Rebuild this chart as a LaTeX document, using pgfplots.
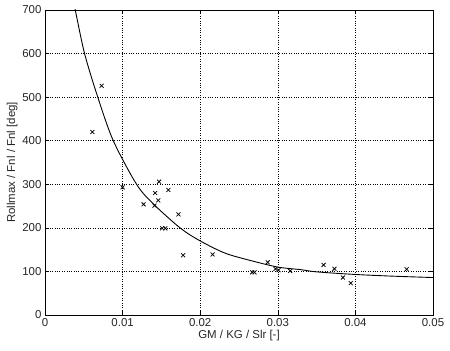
\documentclass[border=0pt]{standalone}
\usepackage{pgfplots}
\pgfplotsset{compat=1.18}
\usepackage{fontspec}
\setmainfont{Liberation Sans}
\begin{document}
\begin{tikzpicture}
\useasboundingbox (-45bp,-36bp) rectangle (405bp,315bp);
\begin{axis}[
  scale only axis,
  width=388bp, height=305bp,
  xmin=0, xmax=0.05, ymin=0, ymax=700,
  xtick={0,0.01,0.02,0.03,0.04,0.05},
  xticklabels={0,0.01,0.02,0.03,0.04,0.05},
  scaled x ticks=false,
  ytick={0,100,200,300,400,500,600,700},
  /pgf/number format/assume math mode=true,
  tick align=inside,
  tick style={black, line width=0.6pt},
  major tick length=4bp,
  grid=major,
  grid style={black, dotted, line width=0.6pt},
  axis line style={black, line width=0.9pt},
  ticklabel style={font=\fontsize{11.5}{13}\selectfont, black!85},
  label style={font=\fontsize{11.5}{13}\selectfont, black!85},
  xlabel={GM / KG / Slr [-]},
  ylabel={Rollmax / Fnl / Fnl [deg]},
  xlabel style={yshift=3bp},
  ylabel style={yshift=-2bp},
  clip=true,
]
\addplot[only marks, mark=x, mark size=2.8pt, black, line width=0.75pt] coordinates {
(0.0061,420) (0.0073,526) (0.0100,293) (0.0127,254) (0.0142,280)
(0.0141,251) (0.0146,263) (0.0147,306) (0.0159,287) (0.0172,231)
(0.0151,199) (0.0155,199) (0.0178,137) (0.0216,139) (0.0267,98)
(0.0270,98) (0.0287,121) (0.0297,106) (0.0301,103) (0.0316,101)
(0.0359,115) (0.0373,106) (0.0384,86) (0.0394,73) (0.0466,105)
};
\addplot[smooth, black, line width=0.9pt] coordinates {
(0.0037,715) (0.0039,700) (0.0051,600) (0.0068,500) (0.0088,400)
(0.0118,300) (0.0139,256) (0.0174,200) (0.0200,170) (0.0232,142)
(0.0265,125) (0.0300,110) (0.0330,104) (0.0350,99) (0.0400,93)
(0.0450,89) (0.0500,86)
};
\end{axis}
\end{tikzpicture}
\end{document}
